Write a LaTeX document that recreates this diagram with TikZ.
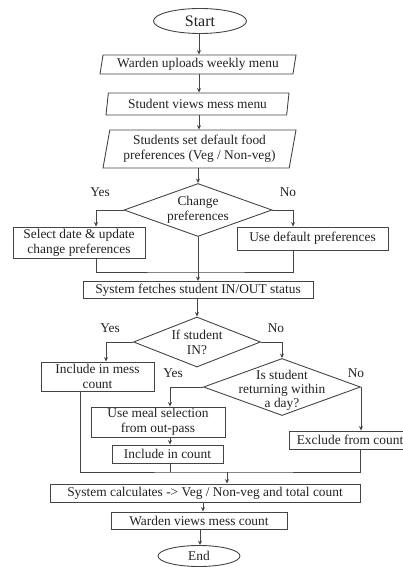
\documentclass[tikz,border=0pt]{standalone}
\usepackage{fontspec}
\setmainfont{Liberation Serif}
\usetikzlibrary{shapes.geometric,arrows.meta}
\definecolor{ink}{HTML}{222222}
\definecolor{edge}{HTML}{444444}
\begin{document}
\begin{tikzpicture}[x=1pt,y=-1pt,
  every node/.style={font=\fontsize{13.4}{15}\selectfont, text=ink, align=center, inner sep=0pt},
  shp/.style={draw=edge, line width=0.9pt},
  procbox/.style={shp, rectangle},
  iobox/.style={shp, trapezium, trapezium left angle=76, trapezium right angle=104, trapezium stretches body=true},
  decision/.style={shp, diamond},
  lbl/.style={font=\fontsize{13.4}{15}\selectfont},
  flow/.style={draw=edge, line width=0.9pt},
  arr/.style={flow, -{Stealth[length=4.5pt,width=4pt]}}
]
\useasboundingbox (0,0) rectangle (402,567);

% terminals
\node[shp, ellipse, minimum width=93pt, minimum height=25pt, font=\fontsize{16}{18}\selectfont] (start) at (200,21) {Start};
\node[shp, ellipse, minimum width=82pt, minimum height=21pt] (stop) at (199,556) {End};

% input / output steps
\node[iobox, minimum width=196pt, minimum height=19pt] (upload) at (198,64.5) {Warden uploads weekly menu};
\node[iobox, minimum width=183pt, minimum height=22pt] (view) at (197.5,104) {Student views mess menu};
\node[iobox, minimum width=193pt, minimum height=38pt] (pref) at (199.5,149) {Students set default food\\preferences (Veg / Non-veg)};

% first decision (outline and its text are separate so the outline keeps its size)
\node[decision, minimum width=148pt, minimum height=53pt] (chg) at (198,210) {};
\node (chgtext) at (chg.center) {Change\\preferences};
\node[procbox, minimum width=132pt, minimum height=31pt] (sel) at (79,242.5) {Select date \& update\\change preferences};
\node[procbox, minimum width=151pt, minimum height=23pt] (dflt) at (312.5,238.5) {Use default preferences};

\node[procbox, minimum width=230pt, minimum height=17pt] (fetch) at (198,290) {System fetches student IN/OUT status};

% second decision
\node[decision, minimum width=127pt, minimum height=50pt] (isin) at (197,342) {};
\node (isintext) at (isin.center) {If student\\IN?};
\node[procbox, minimum width=113pt, minimum height=29pt] (incl) at (97.5,376.5) {Include in mess\\count};

% third decision
\node[decision, minimum width=157pt, minimum height=57pt] (ret) at (282,387) {};
\node[font=\fontsize{13.4}{14}\selectfont] (rettext) at ([yshift=-3pt]ret.center) {Is student\\returning within\\a day?};
\node[procbox, minimum width=134pt, minimum height=30pt] (meal) at (158,422) {Use meal selection\\from out-pass};
\node[procbox, minimum width=111pt, minimum height=18pt] (inc2) at (167.5,454) {Include in count};
\node[procbox, minimum width=122pt, minimum height=18pt] (excl) at (350,440) {Exclude from count};

\node[procbox, minimum width=310pt, minimum height=18pt] (calc) at (205,493) {System calculates -> Veg / Non-veg and total count};
\node[procbox, minimum width=176pt, minimum height=17pt] (wv) at (199,520.5) {Warden views mess count};

% branch labels
\node[lbl] (y1) at (100,192) {Yes};
\node[lbl] (n1) at (288,192) {No};
\node[lbl] (y2) at (110,328) {Yes};
\node[lbl] (n2) at (276,328) {No};
\node[lbl] (y3) at (173,373) {Yes};
\node[lbl] (n3) at (356,373) {No};

% column guides for the connectors
\coordinate (cA) at (96,0);
\coordinate (cB) at (293,0);
\coordinate (cC) at (106,0);
\coordinate (cD) at (170,0);
\coordinate (cE) at (361,0);
\coordinate (cF) at (80,0);
\coordinate (cG) at (360,0);
\coordinate (m1) at (197,272);
\coordinate (m2) at (227,472);

% connectors
\draw[arr] (start.south -| 199,0) -- (upload.north -| 199,0);
\draw[arr] (upload.south -| 199,0) -- (view.north -| 199,0);
\draw[arr] (view.south -| 199,0) -- (pref.north -| 199,0);
\draw[arr] (pref.south -| chg.north) -- (chg.north);

\draw[arr] (chg.west) -| (sel.north -| cA);
\draw[arr] (chg.east) -| (dflt.north -| cB);
\draw[flow] (sel.south -| cA) |- (m1) -| (dflt.south -| cB);
\draw[arr] (chg.south) -- (fetch.north -| chg.south);

\draw[arr] (fetch.south -| isin.north) -- (isin.north);
\draw[arr] (isin.west) -| (incl.north -| cC);
\draw[arr] (isin.east) -| (ret.north);

\draw[arr] (ret.west) -| (meal.north -| cD);
\draw[arr] (ret.east) -| (excl.north -| cE);
\draw[arr] (meal.south -| cD) -- (inc2.north -| cD);

\draw[flow] (incl.south -| cF) |- (m2) -| (excl.south -| cG);
\draw[flow] (inc2.south -| cD) -- (m2 -| cD);
\draw[arr] (m2) -- (calc.north -| m2);
\draw[arr] (calc.south -| 203,0) -- (wv.north -| 203,0);
\draw[arr] (wv.south -| 200,0) -- (stop.north -| 200,0);
\end{tikzpicture}
\end{document}
